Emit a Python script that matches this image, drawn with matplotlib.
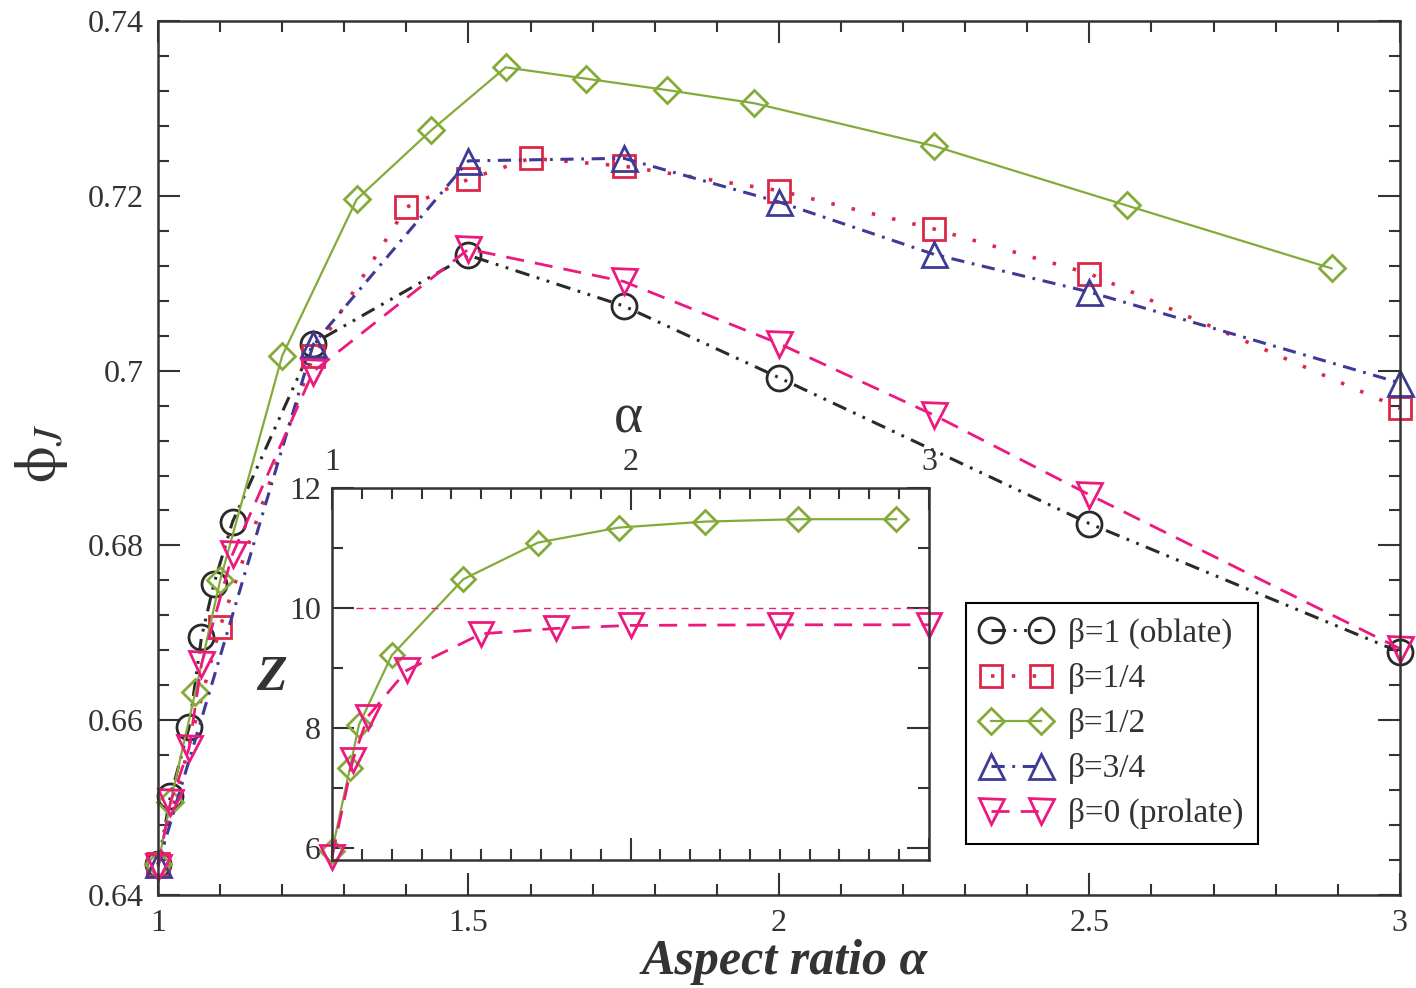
import matplotlib
matplotlib.use('Agg')
import matplotlib.pyplot as plt
from matplotlib.ticker import MultipleLocator, FormatStrFormatter

plt.rcParams['font.family'] = ['Liberation Serif', 'DejaVu Serif']
plt.rcParams['mathtext.fontset'] = 'stix'
plt.rcParams['lines.scale_dashes'] = False

# packing fraction at jamming vs aspect ratio, one curve per beta
alpha_oblate = [1.0, 1.02, 1.05, 1.07, 1.09, 1.12, 1.25, 1.5, 1.75, 2.0, 2.5, 3.0]
phi_oblate = [0.6435, 0.6513, 0.6592, 0.6695, 0.6756, 0.6827, 0.7031, 0.7132,
              0.7074, 0.6992, 0.6825, 0.6678]

alpha_b14 = [1.0, 1.1, 1.25, 1.4, 1.5, 1.6, 1.75, 2.0, 2.25, 2.5, 3.0]
phi_b14 = [0.6435, 0.6707, 0.7017, 0.7187, 0.7219, 0.7243, 0.7234, 0.7206,
           0.7162, 0.7111, 0.6957]

alpha_b12 = [1.0, 1.02, 1.06, 1.1, 1.2, 1.32, 1.44, 1.56, 1.69, 1.82, 1.96,
             2.25, 2.56, 2.89]
phi_b12 = [0.6435, 0.6506, 0.6632, 0.6760, 0.7017, 0.7196, 0.7275, 0.7347,
           0.7334, 0.7321, 0.7306, 0.7257, 0.7189, 0.7117]

alpha_b34 = [1.0, 1.25, 1.5, 1.75, 2.0, 2.25, 2.5, 3.0]
phi_b34 = [0.6435, 0.7030, 0.7240, 0.7243, 0.7193, 0.7133, 0.7090, 0.6986]

alpha_prolate = [1.0, 1.02, 1.05, 1.07, 1.12, 1.25, 1.5, 1.75, 2.0, 2.25, 2.5, 3.0]
phi_prolate = [0.6432, 0.6506, 0.6568, 0.6664, 0.6790, 0.6999, 0.7139, 0.7102,
               0.7031, 0.6949, 0.6858, 0.6682]

# contact number Z (inset)
z_alpha_b12 = [1.0, 1.06, 1.09, 1.2, 1.44, 1.69, 1.96, 2.25, 2.56, 2.89]
z_b12 = [5.95, 7.33, 8.05, 9.21, 10.48, 11.09, 11.34, 11.44, 11.48, 11.48]
z_alpha_prolate = [1.0, 1.07, 1.12, 1.25, 1.5, 1.75, 2.0, 2.5, 3.0]
z_prolate = [5.85, 7.47, 8.19, 8.96, 9.57, 9.66, 9.71, 9.72, 9.72]
z_isostatic = 10

BLACK = '#2a2a2a'
RED = '#dc2848'
GREEN = '#84ab3a'
BLUE = '#3f3a96'
PINK = '#ec1a7e'
TXT = '#333333'

fig = plt.figure(figsize=(14.16, 9.88), dpi=100)
ax = fig.add_axes([0.1116, 0.0941, 0.877, 0.8846])

ax.plot(alpha_oblate, phi_oblate, color=BLACK, lw=2.2, ls=(0, (10.5, 5.5, 2, 5.5, 2, 5.5)),
        marker='o', ms=18, mfc='none', mec=BLACK, mew=2, clip_on=False,
        label='β=1 (oblate)')
ax.plot(alpha_b14, phi_b14, color=RED, lw=2.6, ls=(0, (2.5, 12.5)),
        marker='s', ms=15.5, mfc='none', mec=RED, mew=2, clip_on=False,
        label='β=1/4')
ax.plot(alpha_b12, phi_b12, color=GREEN, lw=1.6, ls='-',
        marker='D', ms=13.5, mfc='none', mec=GREEN, mew=2, clip_on=False,
        label='β=1/2')
ax.plot(alpha_b34, phi_b34, color=BLUE, lw=2.2, ls=(0, (9.5, 5.5, 2, 5.5)),
        marker='^', ms=18, mfc='none', mec=BLUE, mew=2, clip_on=False,
        label='β=3/4')
ax.plot(alpha_prolate, phi_prolate, color=PINK, lw=2.0, ls=(0, (13, 8)),
        marker='v', ms=18, mfc='none', mec=PINK, mew=2, clip_on=False,
        label='β=0 (prolate)')

ax.set_xlim(1, 3)
ax.set_ylim(0.64, 0.74)
ax.xaxis.set_major_locator(MultipleLocator(0.5))
ax.xaxis.set_minor_locator(MultipleLocator(0.1))
ax.yaxis.set_major_locator(MultipleLocator(0.02))
ax.yaxis.set_minor_locator(MultipleLocator(0.004))
ax.xaxis.set_major_formatter(FormatStrFormatter('%g'))
ax.yaxis.set_major_formatter(FormatStrFormatter('%g'))
ax.tick_params(which='both', direction='in', top=True, right=True,
               width=1.5, color=TXT, labelcolor=TXT, labelsize=23)
ax.tick_params(which='major', length=16, pad=10)
ax.tick_params(which='minor', length=8)
for sp in ax.spines.values():
    sp.set_linewidth(1.8)
    sp.set_color(TXT)

fig.text(785 / 1416, 1 - 962 / 988, 'Aspect ratio α', fontsize=36,
         fontweight='bold', fontstyle='italic', color=TXT,
         ha='center', va='center')
fig.text(42 / 1416, 1 - 453 / 988, r'$\mathrm{\phi}_J$', fontsize=42, rotation=90,
         color=TXT, ha='center', va='center')

leg = ax.legend(loc='upper left', bbox_to_anchor=(966 / 1416, 1 - 603 / 988),
                bbox_transform=fig.transFigure, numpoints=2, fontsize=24,
                handlelength=2.1, handletextpad=0.5, labelspacing=0.42,
                borderpad=0.45, borderaxespad=0, fancybox=False,
                framealpha=1, edgecolor='black')
leg.get_frame().set_linewidth(1.5)
for t in leg.get_texts():
    t.set_color(TXT)

# inset: contact number
axin = fig.add_axes([332 / 1416, 1 - 860 / 988, 597 / 1416, 372 / 988])
axin.plot(z_alpha_b12, z_b12, color=GREEN, lw=1.6, ls='-',
          marker='D', ms=12.5, mfc='none', mec=GREEN, mew=2, clip_on=False)
axin.plot(z_alpha_prolate, z_prolate, color=PINK, lw=2.0, ls=(0, (13, 8)),
          marker='v', ms=17, mfc='none', mec=PINK, mew=2, clip_on=False)
axin.hlines(z_isostatic, 1.08, 3, colors=PINK, lw=1.0, linestyles=[(0, (5, 4))])

axin.set_xlim(1, 3)
axin.set_ylim(5.8, 12)
axin.xaxis.set_major_locator(MultipleLocator(1))
axin.xaxis.set_minor_locator(MultipleLocator(0.1))
axin.yaxis.set_major_locator(MultipleLocator(2))
axin.yaxis.set_minor_locator(MultipleLocator(1))
axin.xaxis.set_major_formatter(FormatStrFormatter('%g'))
axin.yaxis.set_major_formatter(FormatStrFormatter('%g'))
axin.tick_params(which='both', direction='in', top=True, right=True,
                 labeltop=True, labelbottom=False, width=1.5, color=TXT,
                 labelcolor=TXT, labelsize=23)
axin.tick_params(which='major', length=16, pad=8)
axin.tick_params(which='minor', length=8)
for sp in axin.spines.values():
    sp.set_linewidth(1.8)
    sp.set_color(TXT)

fig.text(628 / 1416, 1 - 418 / 988, 'α', fontsize=40, color=TXT,
         ha='center', va='center')
fig.text(271 / 1416, 1 - 678 / 988, 'Z', fontsize=36, fontweight='bold',
         fontstyle='italic', color=TXT, ha='center', va='center')

fig.savefig('out.png', dpi=100)
